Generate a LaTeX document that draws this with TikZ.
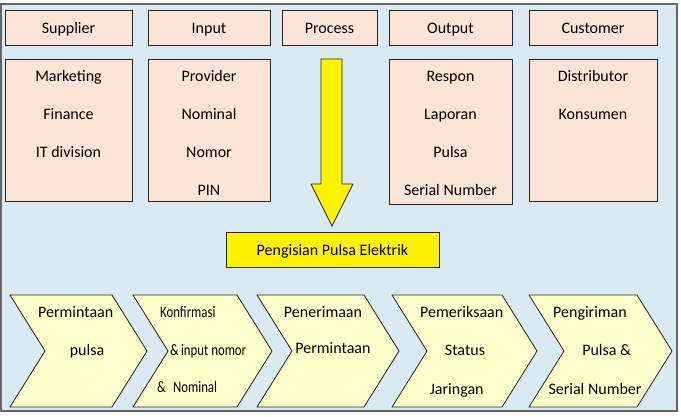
\documentclass[tikz,border=0pt]{standalone}
\usepackage{fontspec}
\setmainfont{Carlito}
\usetikzlibrary{shapes,arrows}
\definecolor{bgblue}{RGB}{218,234,242}
\definecolor{peach}{RGB}{252,228,214}
\definecolor{paleyellow}{RGB}{255,255,204}

\begin{document}
\begin{tikzpicture}[x=1pt,y=-1pt]
\tikzstyle{every node}+=[inner sep=0pt, text height=13pt, text depth=2pt,
  font=\fontsize{16}{19}\selectfont]
\tikzstyle{box}=[draw=black!85, fill=peach, line width=0.8pt]
\tikzstyle{head}=[box, minimum height=35.5]
\tikzstyle{chev}=[draw=black!85, fill=paleyellow, line width=0.8pt]
\tikzstyle{thin}=[xscale=0.8]
\useasboundingbox (0,0) rectangle (681,417);
\draw [fill=bgblue, draw=black!60, line width=1.4pt] (1,4) rectangle (677,411);
% header row
\node [head, minimum width=127] (supplier) at (68.5,27.8) {Supplier};
\node [head, minimum width=122] (input) at (209,27.8) {Input};
\node [head, minimum width=95] (process) at (329.5,27.8) {Process};
\node [head, minimum width=123] (output) at (450.5,27.8) {Output};
\node [head, minimum width=128] (customer) at (593,27.8) {Customer};
% lists
\draw [box] (5,59) rectangle (132,201);
\draw [box] (148,59) rectangle (270,201);
\draw [box] (389,59) rectangle (512,204);
\draw [box] (529,59) rectangle (657,201);
\foreach \t [count=\i] in {Marketing,Finance,IT division}
  \node (sup\i) at (68.5,38+38*\i) {\t};
\foreach \t [count=\i] in {Provider,Nominal,Nomor,PIN}
  \node (inp\i) at (209,38+38*\i) {\t};
\foreach \t [count=\i] in {Respon,Laporan,Pulsa,Serial Number}
  \node (out\i) at (450.5,38+38*\i) {\t};
\foreach \t [count=\i] in {Distributor,Konsumen}
  \node (cus\i) at (593,38+38*\i) {\t};
% big arrow
\draw [fill=yellow, draw=black!85, line width=0.8pt] (321,59) -- (342,59) -- (342,184)
  -- (353,184) -- (332,226) -- (311,184) -- (321,184) -- cycle;
\node [draw=black!85, fill=yellow, line width=0.8pt, minimum width=213, minimum height=35]
  (pengisian) at (332.5,249.7) {Pengisian Pulsa Elektrik};
% chevrons
\foreach \l/\r in {10/112, 133/237, 257/364, 392/502, 529/637}
  \draw [chev] (\l,295) -- (\r,295) -- (\r+35,351) -- (\r,407) -- (\l,407)
    -- (\l+35,351) -- cycle;
\node (c1a) at (75.7,312) {Permintaan};
\node (c1b) at (87,350) {pulsa};
\node [thin, anchor=west] (c2a) at (160,312) {Konfirmasi};
\node [thin, anchor=west] (c2b) at (170,350) {\&\,input nomor};
\node [thin, anchor=west] (c2c) at (157,387) {\&\hspace{9pt}Nominal};
\node (c3a) at (323,312) {Penerimaan};
\node (c3b) at (333,348) {Permintaan};
\node (c4a) at (461.7,312) {Pemeriksaan};
\node (c4b) at (465,350) {Status};
\node (c4c) at (456.7,389) {Jaringan};
\node (c5a) at (590,312) {Pengiriman};
\node (c5b) at (606.7,350) {Pulsa \&};
\node (c5c) at (595,389) {Serial Number};
\end{tikzpicture}
\end{document}
